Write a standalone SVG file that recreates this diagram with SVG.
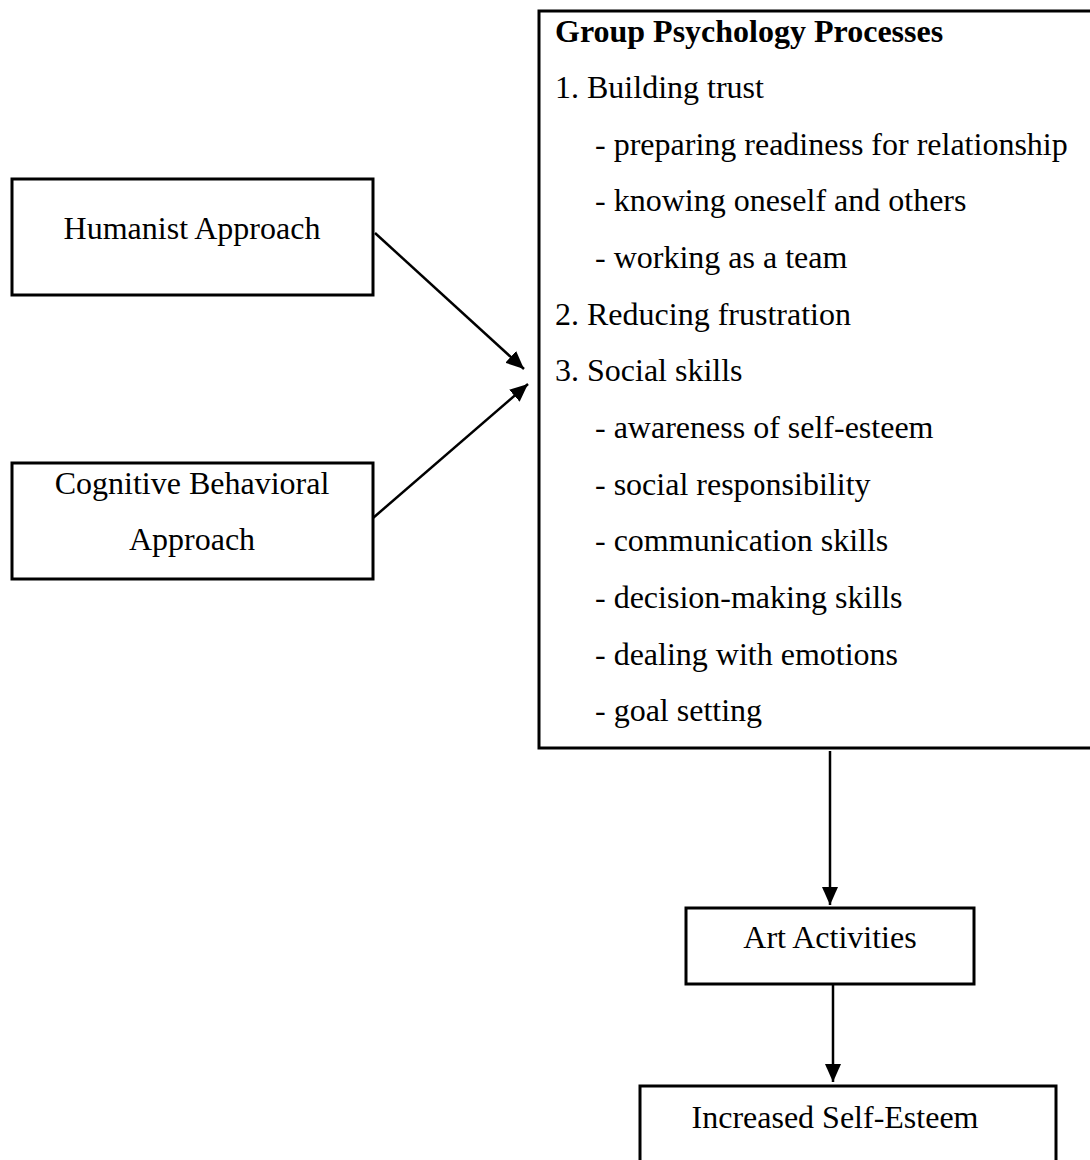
<svg xmlns="http://www.w3.org/2000/svg" width="1090" height="1160" viewBox="0 0 1090 1160">
<style>
text{font-family:"Liberation Serif","Times New Roman",serif;font-size:32px;fill:#000}
.b{font-weight:bold}
.c{text-anchor:middle}
.box{fill:#fff;stroke:#000;stroke-width:3}
.con{stroke:#000;stroke-width:2.5;fill:none}
</style>
<defs>
<marker id="ah" markerUnits="userSpaceOnUse" markerWidth="18" markerHeight="16" refX="18" refY="8" orient="auto">
<path d="M0,0 L18,8 L0,16 z" fill="#000"/>
</marker>
</defs>
<rect width="1090" height="1160" fill="#fff"/>
<g id="humanist">
<rect class="box" x="12" y="179" width="361" height="116"/>
<text class="c" x="192" y="239">Humanist Approach</text>
</g>
<g id="cognitive">
<rect class="box" x="12" y="463" width="361" height="116"/>
<text class="c" x="192" y="494">Cognitive Behavioral</text>
<text class="c" x="192" y="550">Approach</text>
</g>
<g id="group-processes">
<rect class="box" x="539" y="11" width="600" height="737"/>
<text class="b" x="555" y="42">Group Psychology Processes</text>
<text x="555" y="98">1. Building trust</text>
<text x="595" y="155">- preparing readiness for relationship</text>
<text x="595" y="211">- knowing oneself and others</text>
<text x="595" y="268">- working as a team</text>
<text x="555" y="325">2. Reducing frustration</text>
<text x="555" y="381">3. Social skills</text>
<text x="595" y="438">- awareness of self-esteem</text>
<text x="595" y="495">- social responsibility</text>
<text x="595" y="551">- communication skills</text>
<text x="595" y="608">- decision-making skills</text>
<text x="595" y="665">- dealing with emotions</text>
<text x="595" y="721">- goal setting</text>
</g>
<g id="art">
<rect class="box" x="686" y="908" width="288" height="76"/>
<text class="c" x="830" y="948">Art Activities</text>
</g>
<g id="selfesteem">
<rect class="box" x="640" y="1086" width="416" height="100"/>
<text class="c" x="835" y="1128">Increased Self-Esteem</text>
</g>
<g id="connectors">
<line class="con" x1="375" y1="233" x2="524" y2="369" marker-end="url(#ah)"/>
<line class="con" x1="373" y1="518" x2="528" y2="384" marker-end="url(#ah)"/>
<line class="con" x1="830" y1="751" x2="830" y2="905" marker-end="url(#ah)"/>
<line class="con" x1="833" y1="985" x2="833" y2="1082" marker-end="url(#ah)"/>
</g>
</svg>
